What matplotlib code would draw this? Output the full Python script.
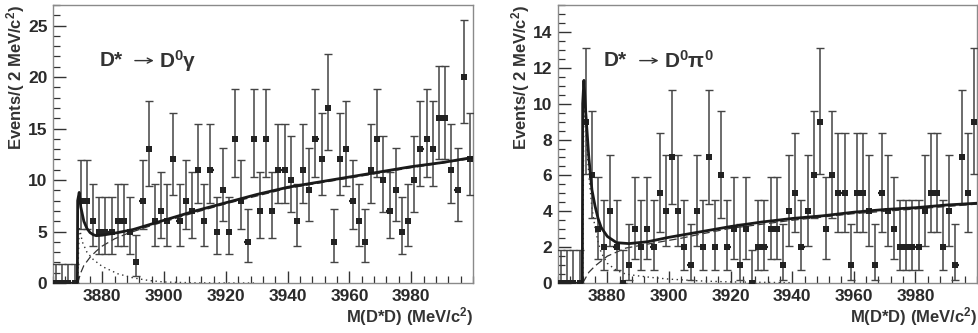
import math
import matplotlib as mpl
mpl.use('Agg')
import matplotlib.pyplot as plt
import numpy as np
from matplotlib.ticker import MultipleLocator

plt.rcParams['font.family'] = ['Liberation Sans', 'DejaVu Sans']
plt.rcParams['font.weight'] = 'bold'
plt.rcParams['mathtext.fontset'] = 'custom'
plt.rcParams['mathtext.rm'] = 'Liberation Sans:bold'
plt.rcParams['mathtext.it'] = 'Liberation Sans:bold'
plt.rcParams['mathtext.bf'] = 'Liberation Sans:bold'

# 2 MeV bins, 3864 - 4000
bin_centers = np.arange(3865, 4000, 2)

# D* -> D0 gamma
gamma_counts = [0, 0, 0, 0,
                8, 8, 6, 5, 5, 5, 6, 6, 5, 2, 8, 13, 6, 7, 6, 12, 6, 8, 7, 11, 6, 11,
                5, 9, 5, 14, 8, 4, 14, 7, 14, 7, 11, 11, 10, 6, 11, 9, 14, 12, 17, 4,
                12, 13, 8, 6, 4, 11, 14, 10, 7, 9, 5, 6, 10, 13, 14, 13, 16, 16, 11, 9,
                20, 12]
# D* -> D0 pi0
pi0_counts = [0, 0, 0, 0,
              9, 6, 3, 2, 4, 2, 0, 1, 3, 2, 3, 2, 5, 4, 7, 4, 2, 1, 4,
              2, 7, 2, 6, 2, 3, 1, 3, 0, 2, 2, 3, 3, 1, 4, 5, 2, 4, 6, 9, 3, 6, 5,
              5, 1, 5, 5, 4, 1, 5, 4, 3, 2, 2, 2, 2, 4, 5, 5, 2, 4, 1, 7, 5, 9]

# fit curves (total, background, signal)
gamma_tot_x = [3871.9, 3872.0, 3872.5, 3873, 3874, 3875, 3876, 3877, 3878, 3880, 3885, 3890,
               3900, 3910, 3920, 3930, 3940, 3950, 3960, 3970, 3980, 3990, 4000]
gamma_tot_y = [0, 8.0, 8.8, 7.4, 6.0, 5.3, 4.9, 4.7, 4.6, 4.65, 4.9, 5.2,
               6.1, 7.0, 7.8, 8.6, 9.3, 9.8, 10.3, 10.8, 11.3, 11.7, 12.2]
gamma_bkg_x = [3872, 3873, 3874, 3876, 3878, 3880, 3884, 3888, 3892, 3896, 3900, 3910,
               3920, 3940, 3960, 3980, 4000]
gamma_bkg_y = [0, 1.0, 1.7, 2.5, 3.1, 3.6, 4.3, 4.8, 5.2, 5.6, 5.95, 6.85,
               7.7, 9.2, 10.2, 11.2, 12.1]
gamma_sig_x = [3872, 3872.5, 3873.5, 3875, 3877, 3880, 3885, 3890, 3895, 3900, 3910, 3930]
gamma_sig_y = [0, 5.5, 4.0, 3.0, 2.3, 1.6, 0.9, 0.5, 0.25, 0.1, 0.02, 0.0]

pi0_tot_x = [3871.9, 3872.0, 3872.4, 3873, 3874, 3875, 3876, 3877, 3878, 3880, 3883, 3887,
             3893, 3900, 3910, 3920, 3930, 3940, 3950, 3960, 3970, 3980, 3990, 4000]
pi0_tot_y = [0, 10.0, 11.3, 9.5, 7.0, 5.2, 4.3, 3.6, 3.1, 2.6, 2.25, 2.2,
             2.3, 2.55, 2.85, 3.15, 3.4, 3.6, 3.75, 3.95, 4.1, 4.2, 4.35, 4.45]
pi0_bkg_x = [3872, 3874, 3876, 3880, 3886, 3894, 3904, 3910, 3920, 3940, 3960, 3980, 4000]
pi0_bkg_y = [0, 0.6, 0.95, 1.5, 1.95, 2.2, 2.5, 2.72, 3.05, 3.5, 3.87, 4.13, 4.4]
pi0_sig_x = [3872, 3872.4, 3873, 3874, 3875, 3876, 3877, 3878, 3880, 3883, 3886, 3890,
             3895, 3900, 3910, 3920, 3940]
pi0_sig_y = [0, 10.5, 8.5, 6.0, 4.2, 3.1, 2.3, 1.7, 1.1, 0.7, 0.5, 0.4,
             0.3, 0.22, 0.12, 0.06, 0.02]


def pois_cdf(n, mu):
    term = math.exp(-mu)
    s = term
    for k in range(1, n + 1):
        term *= mu / k
        s += term
    return s


def solve_mu(n, target):
    # find mu with cdf(n, mu) = target (cdf decreases with mu)
    lo, hi = 0.0, 60.0
    for _ in range(80):
        mid = 0.5 * (lo + hi)
        if pois_cdf(n, mid) > target:
            lo = mid
        else:
            hi = mid
    return 0.5 * (lo + hi)


def poisson_errors(counts):
    a = 0.5 * (1 - 0.682689)
    lo_err, hi_err = [], []
    for n in counts:
        up = solve_mu(n, a)
        low = solve_mu(n - 1, 1 - a) if n > 0 else 0.0
        lo_err.append(n - low)
        hi_err.append(up - n)
    return np.array(lo_err), np.array(hi_err)


def draw_panel(ax, counts, tot, bkg, sig, ymax, ymajor, yminor, product):
    lo, hi = poisson_errors(counts)
    # vertical bars with end caps
    ax.errorbar(bin_centers, counts, yerr=[lo, hi], fmt='none',
                ecolor='#444444', elinewidth=1.1, capsize=3.0, capthick=1.0, zorder=3)
    # horizontal bin-width bars and markers
    ax.errorbar(bin_centers, counts, xerr=1.0, fmt='s', color='#222222',
                ecolor='#222222', ms=4.5, mew=0, elinewidth=1.6, capsize=0, zorder=3)
    ax.plot(tot[0], tot[1], color='#1a1a1a', lw=2.0, zorder=4)
    ax.plot(bkg[0], bkg[1], color='#333333', lw=0.9, ls=(0, (6, 3)), zorder=2)
    ax.plot(sig[0], sig[1], color='#333333', lw=1.0, ls=(0, (1, 2.5)), zorder=2)

    ax.set_xlim(3864, 4000)
    ax.set_ylim(0, ymax)
    ax.xaxis.set_minor_locator(MultipleLocator(4))
    ax.yaxis.set_major_locator(MultipleLocator(ymajor))
    ax.yaxis.set_minor_locator(MultipleLocator(yminor))
    ax.set_xticks([3880, 3900, 3920, 3940, 3960, 3980])
    ax.tick_params(which='major', direction='in', length=9, width=1.0,
                   labelsize=12.5, color='#333333', labelcolor='#2a2a2a', pad=4)
    ax.tick_params(which='minor', direction='in', length=5, width=0.9,
                   color='#333333')
    for lab in ax.get_xticklabels() + ax.get_yticklabels():
        lab.set_fontweight('bold')
    for sp in ax.spines.values():
        sp.set_color('#8a8a8a')
        sp.set_linewidth(1.0)

    ax.set_xlabel(r'M(D*D) (MeV/c$^{2}$)', loc='right', fontsize=12,
                  fontweight='bold', color='#333333', labelpad=1)
    ax.set_ylabel(r'Events/( 2 MeV/c$^{2}$)', loc='top', fontsize=12,
                  fontweight='bold', color='#333333', labelpad=1)
    # decay label: D*, long thin arrow, product
    ax.text(0.11, 0.80, 'D*', transform=ax.transAxes, fontsize=15,
            fontweight='bold', color='#333333', ha='left', va='center')
    ax.annotate('', xy=(0.24, 0.80), xytext=(0.195, 0.80), xycoords='axes fraction',
                arrowprops=dict(arrowstyle='->', lw=1.0, color='#333333',
                                shrinkA=0, shrinkB=0, mutation_scale=9))
    ax.text(0.253, 0.80, product, transform=ax.transAxes, fontsize=15,
            fontweight='bold', color='#333333', ha='left', va='center')


fig = plt.figure(figsize=(9.79, 3.33), dpi=100)
ax1 = fig.add_axes([0.0541, 0.150, 0.429, 0.835])
ax2 = fig.add_axes([0.570, 0.150, 0.428, 0.835])

draw_panel(ax1, gamma_counts, (gamma_tot_x, gamma_tot_y), (gamma_bkg_x, gamma_bkg_y),
           (gamma_sig_x, gamma_sig_y), 27, 5, 1, r'D$^{0}\gamma$')
draw_panel(ax2, pi0_counts, (pi0_tot_x, pi0_tot_y), (pi0_bkg_x, pi0_bkg_y),
           (pi0_sig_x, pi0_sig_y), 15.5, 2, 0.5, r'D$^{0}\pi^{0}$')

fig.savefig('out.png', dpi=100)
